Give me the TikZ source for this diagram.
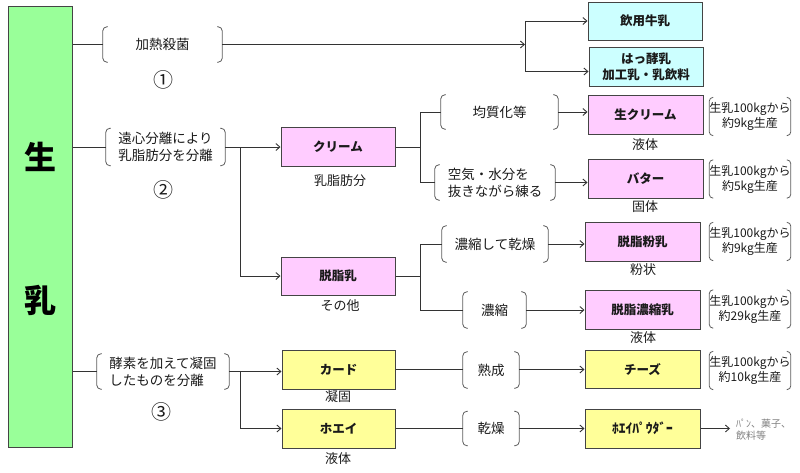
\documentclass[tikz,border=0pt]{standalone}
\usepackage{fontspec}
\setmainfont{Noto Sans CJK JP}
\usetikzlibrary{arrows.meta}
\definecolor{gfill}{HTML}{99FF99}
\definecolor{cfill}{HTML}{CCFFFF}
\definecolor{pfill}{HTML}{FFCCFF}
\definecolor{yfill}{HTML}{FFFF99}
\definecolor{linec}{HTML}{333333}
\definecolor{boxc}{HTML}{444444}
\definecolor{txtc}{HTML}{1A1A1A}
\newcommand\brkt[2]{%
  \draw[brk] ([xshift=#2]#1.north west) -- (#1.north west) -- (#1.south west) -- ([xshift=#2]#1.south west);
  \draw[brk] ([xshift=-#2]#1.north east) -- (#1.north east) -- (#1.south east) -- ([xshift=-#2]#1.south east);}
\begin{document}
\begin{tikzpicture}[x=1pt,y=-1pt,
  >={Straight Barb[length=4pt,width=7pt]},
  every node/.style={text=txtc},
  conn/.style={draw=linec, line width=0.9pt},
  brk/.style={draw=linec!80, line width=0.8pt, rounded corners=4pt},
  box/.style={draw=boxc, line width=1pt, minimum width=114pt, minimum height=38pt,
    inner sep=0pt, align=center, font=\fontsize{12.5}{15}\selectfont\bfseries},
  pbox/.style={inner sep=0pt, align=center, font=\fontsize{13.5}{17}\selectfont},
  lbl/.style={inner sep=0pt, font=\fontsize{13}{15}\selectfont},
  num/.style={inner sep=0pt, font=\fontsize{20}{22}\selectfont},
  note/.style={inner sep=0pt, align=center, minimum width=80pt, minimum height=38pt,
    font=\fontsize{12}{15}\selectfont},
]
\useasboundingbox (0,0) rectangle (800,472);

% green bar
\node[draw=boxc, fill=gfill, line width=1pt, minimum width=64pt, minimum height=441pt, inner sep=0pt] (bar) at (40,226.5) {};
\node[font=\fontsize{32}{34}\selectfont\bfseries, text=black] (sei) at (40,157) {生};
\node[font=\fontsize{32}{34}\selectfont\bfseries, text=black] (nyu) at (40,300) {乳};

% row 1
\node[pbox, minimum width=119pt, minimum height=35pt] (p1) at (162.5,44.5) {加熱殺菌};
\brkt{p1}{5pt}
\node[num] (n1) at (163,80) {①};
\coordinate (j1) at (525,44.5);
\node[box, fill=cfill, minimum height=38pt] (m1) at (645,21) {飲用牛乳};
\node[box, fill=cfill, minimum height=39pt, font=\fontsize{12.5}{16}\selectfont\bfseries] (m2) at (646,66.5) {はっ酵乳\\加工乳・乳飲料};
\draw[conn] (p1.west -| bar.east) -- (p1.west);
\draw[conn,->] (p1.east) -- (j1);
\draw[conn] (j1 |- m1.west) -- ([yshift=-5pt]j1 |- m2.west);
\draw[conn,->] (j1 |- m1.west) -- (m1.west);
\draw[conn,->] ([yshift=-5pt]j1 |- m2.west) -- ([yshift=-5pt]m2.west);

% row 2
\node[pbox, minimum width=119pt, minimum height=37pt] (p2) at (165.5,147) {遠心分離により\\乳脂肪分を分離};
\brkt{p2}{5pt}
\node[num] (n2) at (163,190) {②};
\coordinate (j2) at (240,147);
\node[box, fill=pfill, minimum height=39pt] (c1) at (338,147) {クリーム};
\node[lbl] (l1) at (340,181) {乳脂肪分};
\node[box, fill=pfill] (c2) at (338,276) {脱脂乳};
\node[lbl] (l2) at (340,306) {その他};
\draw[conn] (p2.west -| bar.east) -- (p2.west);
\draw[conn] (p2.east) -- (j2);
\draw[conn] (j2) -- (j2 |- c2.west);
\draw[conn,->] (j2) -- (c1.west);
\draw[conn,->] (j2 |- c2.west) -- (c2.west);

% cream branches
\coordinate (j3) at (420,147);
\node[pbox, minimum width=117pt, minimum height=34pt] (p3) at (499.5,112) {均質化等};
\brkt{p3}{5pt}
\node[pbox, align=left, minimum width=120pt, minimum height=35pt] (p4) at (495,182.5) {空気・水分を\\抜きながら練る};
\brkt{p4}{5pt}
\node[box, fill=pfill, minimum width=115pt, minimum height=39pt] (b1) at (645.5,115) {生クリーム};
\node[lbl] (l3) at (645,145) {液体};
\node[box, fill=pfill, minimum width=115pt, minimum height=39pt] (b2) at (645.5,179) {バター};
\node[lbl] (l4) at (645,207) {固体};
\node[note] (s1) at (750,116.5) {生乳100kgから\\約9kg生産};
\brkt{s1}{4pt}
\node[note] (s2) at (750,179) {生乳100kgから\\約5kg生産};
\brkt{s2}{4pt}
\draw[conn] (c1.east) -- (j3);
\draw[conn] (j3 |- p3.west) -- (j3 |- p4.west);
\draw[conn] (j3 |- p3.west) -- (p3.west);
\draw[conn] (j3 |- p4.west) -- (p4.west);
\draw[conn,->] (p3.east) -- (p3.east -| b1.west);
\draw[conn,->] (p4.east) -- (p4.east -| b2.west);

% skim milk branches
\coordinate (j4) at (420,276);
\node[pbox, minimum width=106pt, minimum height=36pt] (p5) at (495,244) {濃縮して乾燥};
\brkt{p5}{5pt}
\node[pbox, minimum width=63pt, minimum height=36pt] (p6) at (494.5,310) {濃縮};
\brkt{p6}{5pt}
\node[box, fill=pfill, minimum width=115pt, minimum height=39pt] (b3) at (642.5,241.5) {脱脂粉乳};
\node[lbl] (l5) at (643,270) {粉状};
\node[box, fill=pfill, minimum width=115pt, minimum height=39pt] (b4) at (642.5,309.5) {脱脂濃縮乳};
\node[lbl] (l6) at (643,338) {液体};
\node[note] (s3) at (750,241.5) {生乳100kgから\\約9kg生産};
\brkt{s3}{4pt}
\node[note] (s4) at (750,309) {生乳100kgから\\約29kg生産};
\brkt{s4}{4pt}
\draw[conn] (c2.east) -- (j4);
\draw[conn] (j4 |- p5.west) -- (j4 |- p6.west);
\draw[conn] (j4 |- p5.west) -- (p5.west);
\draw[conn] (j4 |- p6.west) -- (p6.west);
\draw[conn,->] (p5.east) -- (p5.east -| b3.west);
\draw[conn,->] (p6.east) -- (p6.east -| b4.west);

% row 3
\node[pbox, align=left, minimum width=132pt, minimum height=35pt] (p7) at (163,371.5) {酵素を加えて凝固\\したものを分離};
\brkt{p7}{5pt}
\node[num] (n3) at (161,412) {③};
\coordinate (j5) at (240,371.5);
\node[box, fill=yfill, minimum width=113pt, minimum height=39pt] (d1) at (338.5,369.5) {カード};
\node[lbl] (l7) at (338,397) {凝固};
\node[box, fill=yfill, minimum width=113pt, minimum height=39pt] (d2) at (338.5,428.5) {ホエイ};
\node[lbl] (l8) at (338,459) {液体};
\node[pbox, minimum width=56pt, minimum height=36pt] (p8) at (491,370) {熟成};
\brkt{p8}{5pt}
\node[pbox, minimum width=56pt, minimum height=34pt] (p9) at (491,428.5) {乾燥};
\brkt{p9}{5pt}
\node[box, fill=yfill, minimum width=115pt, minimum height=38pt] (d3) at (642.5,369.5) {チーズ};
\node[box, fill=yfill, minimum width=115pt, minimum height=39pt, font=\fontsize{13.5}{15}\selectfont\bfseries] (d4) at (642.5,428.5) {ﾎｴｲﾊﾟｳﾀﾞｰ};
\node[note] (s5) at (750,370.5) {生乳100kgから\\約10kg生産};
\brkt{s5}{4pt}
\coordinate (e1) at (730,428.5);
\node[anchor=west, inner sep=0pt, align=left, text=gray, font=\fontsize{10}{12.5}\selectfont] (t1) at (736,429.5) {ﾊﾟﾝ、菓子、\\飲料等};
\draw[conn] (p7.west -| bar.east) -- (p7.west);
\draw[conn] (p7.east) -- (j5);
\draw[conn] (j5) -- (j5 |- d2.west);
\draw[conn,->] (j5) -- (j5 -| d1.west);
\draw[conn,->] (j5 |- d2.west) -- (d2.west);
\draw[conn] (d1.east) -- (d1.east -| p8.west);
\draw[conn] (d2.east) -- (d2.east -| p9.west);
\draw[conn,->] (p8.east |- d3.west) -- (d3.west);
\draw[conn,->] (p9.east |- d4.west) -- (d4.west);
\draw[conn,->] (d4.east) -- (e1);
\end{tikzpicture}
\end{document}
